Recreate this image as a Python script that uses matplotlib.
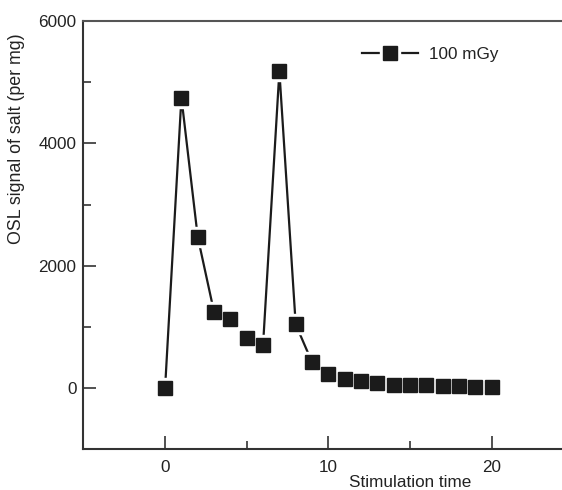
"""OSL signal of salt versus stimulation time, 100 mGy dose."""

import matplotlib
matplotlib.use('Agg')
import matplotlib.pyplot as plt
from matplotlib.lines import Line2D
from matplotlib.legend_handler import HandlerTuple
from matplotlib.ticker import FixedLocator

# Stimulation time steps and measured signal (per mg)
stim_time = list(range(0, 21))
osl_signal = [0, 4750, 2470, 1240, 1130, 820, 700, 5180, 1040, 420, 235,
              150, 105, 75, 55, 50, 40, 30, 25, 22, 20]
series_label = '100 mGy'

x_major = [0, 10, 20]
x_minor = [5, 15]
y_major = [0, 2000, 4000, 6000]
y_minor = [1000, 3000, 5000]

plt.rcParams['font.family'] = ['Liberation Sans', 'DejaVu Sans']
ink = '#1b1b1b'
axis_col = '#333333'

fig = plt.figure(figsize=(5.62, 4.9), dpi=100)
# Axes runs past the right edge of the figure, so only part of the x range shows
ax = fig.add_axes([0.1485, 0.0837, 1.162, 0.873])

# Connecting line, then a white halo under each marker so the line stops short
ax.plot(stim_time, osl_signal, color=ink, linewidth=1.6, zorder=2)
ax.plot(stim_time, osl_signal, linestyle='none', marker='s', markersize=14,
        markerfacecolor='white', markeredgecolor='white', zorder=3)
ax.plot(stim_time, osl_signal, linestyle='none', marker='s', markersize=9.5,
        markerfacecolor=ink, markeredgecolor=ink, zorder=4)

ax.set_xlim(-5, 35)
ax.set_ylim(-1000, 6000)

ax.xaxis.set_major_locator(FixedLocator(x_major))
ax.xaxis.set_minor_locator(FixedLocator(x_minor))
ax.yaxis.set_major_locator(FixedLocator(y_major))
ax.yaxis.set_minor_locator(FixedLocator(y_minor))

ax.spines['right'].set_visible(False)
for side in ('left', 'bottom', 'top'):
    ax.spines[side].set_linewidth(1.5)
    ax.spines[side].set_color(axis_col)
ax.spines['top'].set_color('#555555')

ax.tick_params(which='both', direction='in', color=axis_col, width=1.2,
               labelsize=12.3, labelcolor='#222222')
ax.tick_params(which='major', length=9.5)
ax.tick_params(which='minor', length=5.5)
ax.tick_params(axis='x', which='both', pad=8)
ax.tick_params(axis='y', which='both', pad=5)

ax.set_xlabel('Stimulation time', fontsize=12.3, color='#222222', labelpad=0)
ax.set_ylabel('OSL signal of salt (per mg)', fontsize=12.8, color='#222222')
ax.yaxis.set_label_coords(25 / 562, 1 - 139 / 490, transform=fig.transFigure)

# Legend handle: line with a gapped square marker on top
h_line = Line2D([], [], color=ink, linewidth=1.6)
h_halo = Line2D([], [], linestyle='none', marker='s', markersize=14,
                markerfacecolor='white', markeredgecolor='white')
h_mark = Line2D([], [], linestyle='none', marker='s', markersize=9.5,
                markerfacecolor=ink, markeredgecolor=ink)
fig.legend([(h_line, h_halo, h_mark)], [series_label],
           handler_map={tuple: HandlerTuple(ndivide=1)},
           loc='center left', bbox_to_anchor=(362 / 562, 1 - 54 / 490),
           frameon=False, fontsize=12.3, handlelength=3.3,
           handletextpad=0.6, borderpad=0, borderaxespad=0,
           labelcolor='#222222')

fig.savefig('out.png', dpi=100, facecolor='white')
